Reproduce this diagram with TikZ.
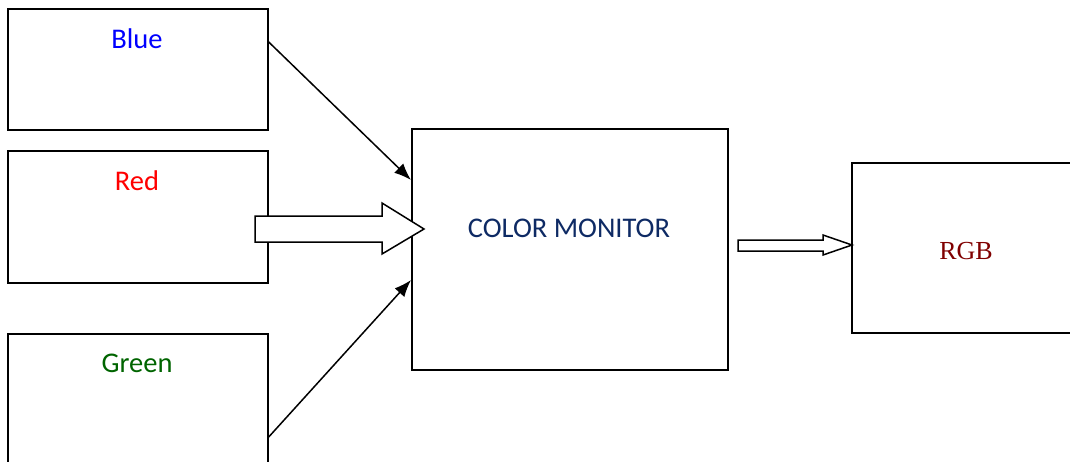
\documentclass[tikz,border=0pt]{standalone}
\usepackage{fontspec}
\setmainfont{Carlito}
\newfontfamily\serifrgb{Liberation Serif}
\usetikzlibrary{arrows.meta}
\definecolor{bluetxt}{RGB}{0,0,255}
\definecolor{redtxt}{RGB}{255,0,0}
\definecolor{greentxt}{RGB}{0,100,0}
\definecolor{montxt}{RGB}{14,42,100}
\definecolor{rgbtxt}{RGB}{128,0,0}
\tikzset{
  box/.style={draw=black, line width=1.7pt, rectangle, inner sep=0pt, anchor=north west},
  lbl/.style={anchor=base, inner sep=0pt, font=\fontsize{28.5}{32}\selectfont},
  conn/.style={line width=1.5pt, -{Latex[length=17pt,width=13pt]}},
  blockarrow/.style={draw=black, fill=white, line width=1.5pt, line join=miter}
}
\begin{document}
\begin{tikzpicture}[x=1pt,y=-1pt]
\useasboundingbox (0,0) rectangle (1070,461);
\clip (0,0) rectangle (1070,461);
\node[box, minimum width=260pt, minimum height=121pt] (blue) at (7,8) {};
\node[box, minimum width=260pt, minimum height=132pt] (red) at (7,150) {};
\node[box, minimum width=260pt, minimum height=150pt] (green) at (7,333) {};
\node[box, minimum width=316pt, minimum height=241pt] (mon) at (411,128) {};
\node[box, minimum width=240pt, minimum height=170pt] (rgb) at (851,162) {};

\node[lbl, text=bluetxt] (tblue) at (137,48) {Blue};
\node[lbl, text=redtxt] (tred) at (137,190) {Red};
\node[lbl, text=greentxt] (tgreen) at (137,372) {Green};
\node[lbl, text=montxt] (tmon) at (569,237) {COLOR MONITOR};
\node[lbl, text=rgbtxt, font=\serifrgb\fontsize{26}{30}\selectfont] (trgb) at (966,259) {RGB};

\draw[conn] ([yshift=-34pt]blue.north east) -- ([yshift=-52pt]mon.north west);
\draw[conn] ([yshift=-104pt]green.north east) -- ([yshift=-152pt]mon.north west);

\draw[blockarrow] (255,216) -- (382,216) -- (382,203) -- (424,229) -- (382,254) -- (382,242) -- (255,242) -- cycle;
\draw[blockarrow] (738,240) -- (823,240) -- (823,235) -- (852,245) -- (823,255) -- (823,251) -- (738,251) -- cycle;
\end{tikzpicture}
\end{document}
